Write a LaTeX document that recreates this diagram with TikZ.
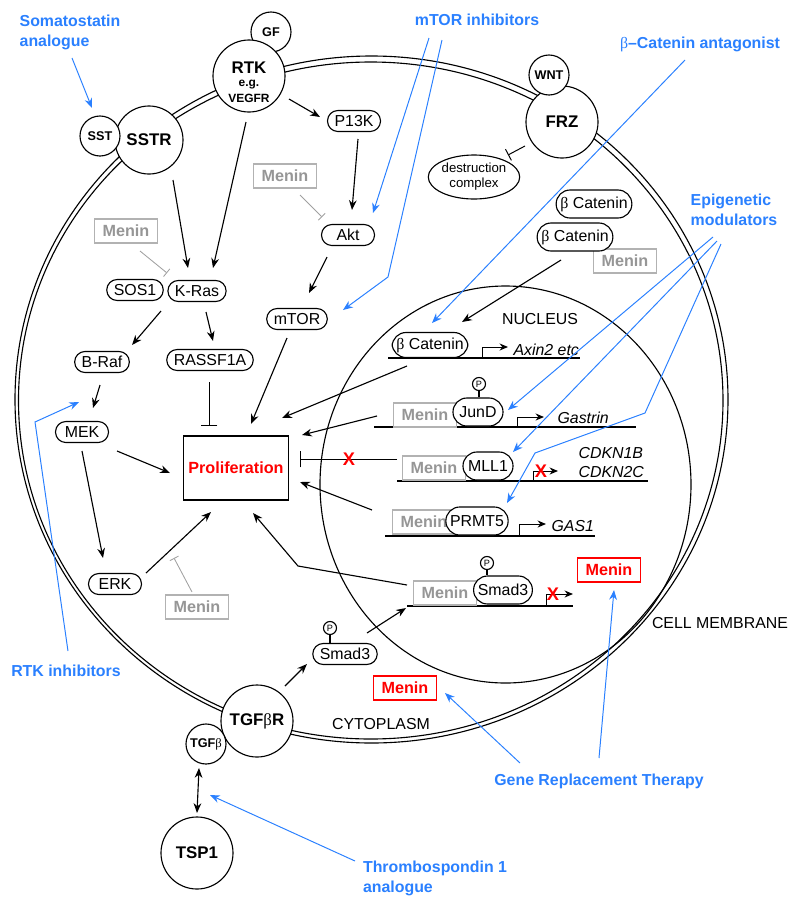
\documentclass[tikz,border=0pt]{standalone}
\usepackage{fontspec}
\setmainfont{Liberation Sans}
\newfontfamily\grk{Liberation Serif}
\usetikzlibrary{arrows.meta,shapes.geometric}
\definecolor{drugblue}{RGB}{42,128,255}
\definecolor{meningray}{RGB}{150,150,150}
\definecolor{boxgray}{RGB}{178,178,178}
\definecolor{inhgray}{RGB}{160,160,160}
\begin{document}
\begin{tikzpicture}[x=0.025cm,y=-0.025cm,line width=0.8pt,
    font=\fontsize{11.3}{13.5}\selectfont,
    pill/.style={draw,fill=white,rounded corners=7.4pt,minimum height=0.525cm,minimum width=1.325cm,inner xsep=5pt,inner ysep=0pt},
    npill/.style={draw,fill=white,rounded corners=9.9pt,minimum height=0.7cm,minimum width=1.25cm,inner xsep=3pt,inner ysep=0pt},
    recep/.style={draw,fill=white,circle,minimum size=1.8cm,inner sep=0pt,font=\fontsize{12}{14}\selectfont\bfseries},
    ligand/.style={draw,fill=white,circle,minimum size=1cm,inner sep=0pt,font=\fontsize{9}{10}\selectfont\bfseries},
    menin/.style={draw=boxgray,fill=white,text=meningray,font=\fontsize{11.5}{13}\selectfont\bfseries,minimum width=1.575cm,minimum height=0.6cm,inner sep=0pt},
    redmenin/.style={menin,draw=red,text=red},
    drug/.style={text=drugblue,font=\fontsize{11.3}{14.2}\selectfont\bfseries,align=left,inner sep=0pt},
    lbl/.style={inner sep=0pt},
    act/.style={-{Stealth[length=7pt,width=5.5pt]}},
    blk/.style={line width=0.7pt,-{Bar[width=12pt]}},
    gblk/.style={draw=inhgray,line width=0.6pt,-{Bar[width=7pt]}},
    bluearr/.style={draw=drugblue,line width=0.7pt,-{Stealth[length=7pt,width=5.5pt]}},
    tss/.style={line width=0.7pt,-{Stealth[length=6pt,width=5pt]}},
    gene/.style={font=\fontsize{11.3}{13.5}\selectfont\itshape,anchor=west,inner sep=0pt,align=left},
    redx/.style={text=red,font=\fontsize{13}{13}\selectfont\bfseries,inner sep=0pt},
    phos/.style={draw,circle,minimum size=0.325cm,inner sep=0pt,font=\fontsize{6.5}{7}\selectfont}]
  \useasboundingbox (0,0) rectangle (800,909);

  \draw (371.5,399.5) ellipse [x radius=356.5,y radius=343.5];
  \draw (370.75,400.5) ellipse [x radius=352.25,y radius=338.5];
  \draw (505.5,484.5) ellipse [x radius=185.5,y radius=198.5];

  \node[recep,minimum size=1.7cm] (sstr) at (149,140) {SSTR};
  \node[ligand] (sst) at (100,136) {SST};
  \node[ligand] (gf) at (271,32) {GF};
  \node[recep] (rtk) at (249,76) {};
  \node[lbl,font=\fontsize{12}{14}\selectfont\bfseries] (rtklbl) at (249,68) {RTK};
  \node[lbl,font=\fontsize{8.5}{10}\selectfont\bfseries] (rtkeg) at (249,85) {e.g.};
  \node[lbl,font=\fontsize{8.5}{10}\selectfont\bfseries] (rtkvegfr) at (249,98) {VEGFR};
  \node[recep] (frz) at (562,122) {FRZ};
  \node[ligand] (wnt) at (549,75) {WNT};
  \node[recep] (tgfbr) at (257,721) {TGF{\grk\mdseries β}R};
  \node[ligand] (tgfb) at (206,744) {TGF{\grk\mdseries β}};
  \node[recep] (tsp) at (197,853) {TSP1};

  \node[pill] (p13k) at (354,121) {P13K};
  \node[pill] (akt) at (348,235) {Akt};
  \node[pill] (sos) at (135,290) {SOS1};
  \node[pill] (kras) at (197,291) {K-Ras};
  \node[pill] (mtor) at (297,319) {mTOR};
  \node[pill] (braf) at (102,362) {B-Raf};
  \node[pill] (rassf) at (210,360) {RASSF1A};
  \node[pill] (mek) at (82,432) {MEK};
  \node[pill] (erk) at (115,584) {ERK};
  \node[pill] (smadc) at (345,654) {Smad3};
  \node[menin] (menin1) at (126,231) {Menin};
  \node[menin] (menin2) at (285,176) {Menin};
  \node[menin] (menin3) at (197,607) {Menin};
  \node[menin] (menin4) at (625,261) {Menin};
  \node[npill] (bcat1) at (594,204) {{\grk β} Catenin};
  \node[npill] (bcat2) at (575,237) {{\grk β} Catenin};
  \node[draw,ellipse,minimum width=1.85cm,minimum height=1.1cm,inner sep=0pt,align=center,font=\fontsize{9.4}{10.6}\selectfont] (destr) at (474,177) {destruction\\complex};
  \node[draw,minimum width=2.575cm,minimum height=1.6cm,text=red,font=\fontsize{11.5}{13}\selectfont\bfseries] (prolif) at (236,468) {Proliferation};

  \draw (388,358) -- (580,358);
  \draw (374,427) -- (636,427);
  \draw (397,481) -- (648,481);
  \draw (385,536) -- (595,536);
  \draw (407,606) -- (573,606);
  \draw[tss] (482,358) -- ++(0,-11) -- ++(26,0);
  \draw[tss] (517,427) -- ++(0,-10) -- ++(27,0);
  \draw[tss] (533,481) -- ++(0,-10) -- ++(25,0);
  \draw[tss] (519,536) -- ++(0,-12) -- ++(27,0);
  \draw[tss] (546,606) -- ++(0,-12) -- ++(27,0);

  \node[npill,minimum height=0.625cm] (bcatn) at (430,345) {{\grk β} Catenin};
  \node[menin] (menj) at (425,415) {Menin};
  \node[npill] (jund) at (478,412) {JunD};
  \node[menin] (menm) at (434,468) {Menin};
  \node[npill] (mll) at (488,466) {MLL1};
  \node[menin] (menp) at (424,522) {Menin};
  \node[npill] (prmt) at (477,521) {PRMT5};
  \node[menin] (mens) at (445,593) {Menin};
  \node[npill] (smadn) at (503,590) {Smad3};
  \node[redmenin] (menr1) at (609,570) {Menin};
  \node[redmenin] (menr2) at (405,688) {Menin};
  \node[phos] (pj) at (479,384) {P};
  \node[phos] (ps) at (487,563) {P};
  \node[phos] (pc) at (330,628) {P};

  \node[gene] (axin) at (513,350) {Axin2 etc};
  \node[gene] (gastrin) at (557,418) {Gastrin};
  \node[gene] (cdkn) at (578,462.5) {CDKN1B\\CDKN2C};
  \node[gene] (gas) at (551,526) {GAS1};

  \node (nucl) at (540,319) {NUCLEUS};
  \node (cyto) at (381,724) {CYTOPLASM};
  \node (cellm) at (720,623) {CELL MEMBRANE};
  \node[drug] (soma) at (70,32) {Somatostatin\\analogue};
  \node[drug] (mtorinh) at (477,20) {mTOR inhibitors};
  \node[drug] (betainh) at (700,44) {{\grk\mdseries β}–Catenin antagonist};
  \node[drug] (epi) at (734,210) {Epigenetic\\modulators};
  \node[drug] (rtkinh) at (66,671) {RTK inhibitors};
  \node[drug] (gene) at (599,781) {Gene Replacement Therapy};
  \node[drug] (thrombo) at (435,878) {Thrombospondin 1\\analogue};

  \begin{scope}[act]
    \draw ([shift={(40,23)}]rtk.center) -- ([shift={(-34,-4)}]p13k.center);
    \draw ([shift={(24,40)}]sstr.center) -- ([shift={(-9,-23)}]kras.center);
    \draw ([shift={(-3,46)}]rtk.center) -- ([shift={(16,-23)}]kras.center);
    \draw ([shift={(4,18)}]p13k.center) -- ([shift={(4,-25)}]akt.center);
    \draw ([shift={(-21,22)}]akt.center) -- ([shift={(12,-26)}]mtor.center);
    \draw ([shift={(-36,20)}]kras.center) -- ([shift={(30,-17)}]braf.center);
    \draw ([shift={(9,21)}]kras.center) -- ([shift={(3,-19)}]rassf.center);
    \draw ([shift={(-2,23)}]braf.center) -- ([shift={(11,-24)}]mek.center);
    \draw ([shift={(35,19)}]mek.center) -- ([shift={(-66,5)}]prolif.center);
    \draw ([shift={(0,19)}]mek.center) -- ([shift={(-12,-26)}]erk.center);
    \draw ([shift={(31,-11)}]erk.center) -- ([shift={(-25,44)}]prolif.center);
    \draw ([shift={(-10,19)}]mtor.center) -- ([shift={(15,-44)}]prolif.center);
    \draw ([shift={(-23,21)}]bcatn.center) -- ([shift={(46,-50)}]prolif.center);
    \draw ([shift={(-48,1)}]menj.center) -- ([shift={(66,-33)}]prolif.center);
    \draw ([shift={(-52,-12)}]menp.center) -- ([shift={(64,14)}]prolif.center);
    \draw ([shift={(-38,-8)}]mens.center) -- ++(-109,-19) -- ([shift={(17,45)}]prolif.center);
    \draw ([shift={(-14,23)}]bcat2.center) -- ([shift={(32,-23)}]bcatn.center);
    \draw ([shift={(28,-35)}]tgfbr.center) -- ([shift={(-38,10)}]smadc.center);
    \draw ([shift={(22,-21)}]smadc.center) -- ([shift={(-39,15)}]mens.center);
    \draw[{Stealth[length=7pt,width=5.5pt]}-{Stealth[length=7pt,width=5.5pt]}] ([shift={(-7,24)}]tgfb.center) -- ([shift={(0,-40)}]tsp.center);
  \end{scope}

  \draw[blk] ([shift={(-1,22)}]rassf.center) -- ([shift={(-27,-42)}]prolif.center);
  \draw[blk] ([shift={(-37,-9)}]menm.center) -- ([shift={(64,-9)}]prolif.center);
  \draw[line width=0.7pt,-{Bar[width=9pt]}] ([shift={(-37,24)}]frz.center) -- ([shift={(34,-22)}]destr.center);
  \draw[gblk] ([shift={(14,20)}]menin1.center) -- ([shift={(-30,-18)}]kras.center);
  \draw[gblk] ([shift={(15,19)}]menin2.center) -- ([shift={(-26,-18)}]akt.center);
  \draw[gblk] ([shift={(-5,-15)}]menin3.center) -- ++(-18,-34);

  \draw (pj) -- (pj |- jund.north);
  \draw (ps) -- (ps |- smadn.north);
  \draw (pc) -- (pc |- smadc.north);

  \begin{scope}[bluearr]
    \draw ([shift={(2,26)}]soma.center) -- ([shift={(-8,-28)}]sst.center);
    \draw ([shift={(-48,18)}]mtorinh.center) -- ([shift={(25,-22)}]akt.center);
    \draw ([shift={(-35,20)}]mtorinh.center) -- ++(-54,237) -- ([shift={(46,-9)}]mtor.center);
    \draw ([shift={(-15,16)}]betainh.center) -- ([shift={(2,-22)}]bcatn.center);
    \draw ([shift={(-21,27)}]epi.center) -- ([shift={(30,-2)}]jund.center);
    \draw ([shift={(-17,31)}]epi.center) -- ([shift={(25,-14)}]mll.center);
    \draw ([shift={(-13,34)}]epi.center) -- ++(-76,169) -- ++(-110,40) -- ([shift={(30,-18)}]prmt.center);
    \draw ([shift={(2,-20)}]rtkinh.center) -- ++(-33,-229) -- ([shift={(-3,-30)}]mek.center);
    \draw ([shift={(-79,-18)}]gene.center) -- ([shift={(40,5)}]menr2.center);
    \draw ([shift={(0,-23)}]gene.center) -- ([shift={(5,20)}]menr1.center);
    \draw ([shift={(-80,-17)}]thrombo.center) -- ([shift={(4,51)}]tgfb.center);
  \end{scope}

  \node[redx] (xmll) at (349,459) {X};
  \node[redx] (xcdkn) at (541,471) {X};
  \node[redx] (xmen) at (553,594) {X};
\end{tikzpicture}
\end{document}
